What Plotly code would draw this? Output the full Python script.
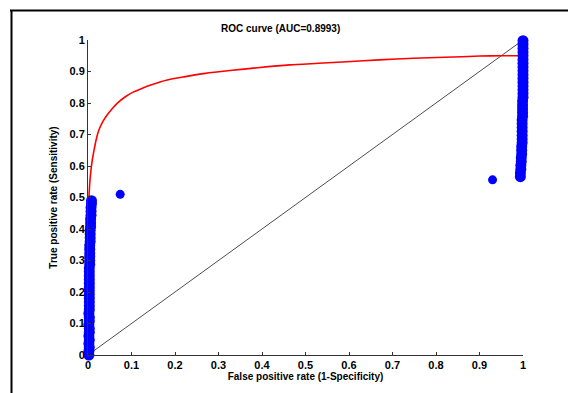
import plotly.graph_objects as go

# ROC curve (red)
roc_fpr = [0.002, 0.004, 0.006, 0.010, 0.014, 0.019, 0.025, 0.034, 0.044, 0.055, 0.067,
           0.085, 0.106, 0.125, 0.144, 0.182, 0.221, 0.270, 0.326, 0.390, 0.464, 0.530,
           0.595, 0.670, 0.748, 0.820, 0.901, 0.950, 0.989]
roc_tpr = [0.500, 0.545, 0.577, 0.620, 0.651, 0.685, 0.714, 0.741, 0.762, 0.781, 0.799,
           0.819, 0.836, 0.847, 0.857, 0.873, 0.883, 0.894, 0.903, 0.912, 0.921, 0.926,
           0.931, 0.937, 0.942, 0.945, 0.949, 0.950, 0.950]

# Blue points (operating points)
left_x = [0.002, 0.002, 0.003, 0.002, 0.003, 0.002, 0.003, 0.003, 0.002, 0.003,
          0.003, 0.002, 0.003, 0.003, 0.003, 0.003, 0.003, 0.003, 0.003, 0.003,
          0.003, 0.003, 0.003, 0.003, 0.004, 0.004, 0.004, 0.004, 0.004, 0.004,
          0.005, 0.005, 0.005, 0.005, 0.006, 0.006, 0.006, 0.007, 0.007, 0.007,
          0.008, 0.008]
left_y = [0.000, 0.012, 0.024, 0.036, 0.048, 0.060, 0.072, 0.084, 0.096, 0.108,
          0.120, 0.132, 0.144, 0.156, 0.168, 0.180, 0.192, 0.204, 0.216, 0.228,
          0.240, 0.252, 0.264, 0.276, 0.288, 0.300, 0.312, 0.324, 0.336, 0.348,
          0.360, 0.372, 0.384, 0.396, 0.408, 0.420, 0.432, 0.444, 0.456, 0.468,
          0.480, 0.490]
mid_x = [0.074, 0.930]
mid_y = [0.510, 0.556]
right_x = [0.994, 0.994, 0.995, 0.995, 0.996, 0.996, 0.997, 0.997, 0.997, 0.998,
           0.998, 0.998, 0.998, 0.998, 0.998, 0.998, 0.999, 0.999, 0.999, 0.999,
           0.999, 1.000, 1.000, 1.000, 1.000, 1.000, 1.000, 1.000, 1.000, 1.000,
           1.000, 1.000, 1.000, 1.000, 1.000, 1.000, 1.000]
right_y = [0.566, 0.578, 0.590, 0.602, 0.614, 0.626, 0.638, 0.650, 0.662, 0.674,
           0.686, 0.698, 0.710, 0.722, 0.734, 0.746, 0.758, 0.770, 0.782, 0.794,
           0.806, 0.818, 0.830, 0.842, 0.854, 0.866, 0.878, 0.890, 0.902, 0.914,
           0.926, 0.938, 0.950, 0.962, 0.974, 0.986, 0.998]

diag = [0, 1]

ticks = [0, 0.1, 0.2, 0.3, 0.4, 0.5, 0.6, 0.7, 0.8, 0.9, 1]
tick_text = ["0", "0.1", "0.2", "0.3", "0.4", "0.5", "0.6", "0.7", "0.8", "0.9", "1"]

FONT = "Liberation Sans, Arial, sans-serif"
BLUE = "#0000ff"

fig = go.Figure()
fig.add_trace(go.Scatter(x=diag, y=diag, mode="lines",
                         line=dict(color="black", width=0.7), cliponaxis=False))
fig.add_trace(go.Scatter(x=roc_fpr, y=roc_tpr, mode="lines",
                         line=dict(color="#ff0000", width=1.6, shape="spline", smoothing=0.6),
                         cliponaxis=False))
for xs, ys, sz in [(left_x, left_y, 11), (mid_x, mid_y, 9), (right_x, right_y, 11)]:
    fig.add_trace(go.Scatter(x=xs, y=ys, mode="markers",
                             marker=dict(color=BLUE, size=sz, line=dict(width=0)),
                             cliponaxis=False))

axis_common = dict(
    range=[0, 1], tickvals=ticks, ticktext=tick_text, automargin=False,
    ticks="inside", ticklen=3, tickwidth=1, tickcolor="#333333",
    showline=True, linecolor="#333333", linewidth=1, mirror=False,
    showgrid=False, zeroline=False,
    tickfont=dict(family=FONT, size=11, color="black", weight="bold"),
)

fig.update_layout(
    width=568, height=393,
    margin=dict(l=88, r=45, t=40, b=38, autoexpand=False),
    paper_bgcolor="white", plot_bgcolor="white",
    showlegend=False,
    xaxis=dict(**axis_common,
               title=dict(text="False positive rate (1-Specificity)", standoff=2,
                          font=dict(family=FONT, size=10, color="black", weight="bold"))),
    yaxis=dict(**axis_common,
               title=dict(text="True positive rate (Sensitivity)", standoff=10,
                          font=dict(family=FONT, size=10, color="black", weight="bold"))),
    annotations=[dict(text="ROC curve (AUC=0.8993)", xref="paper", yref="paper",
                      x=(280 - 88) / 435, y=(355 - 29) / 315, xanchor="center", yanchor="middle",
                      showarrow=False,
                      font=dict(family=FONT, size=10, color="black", weight="bold"))],
    shapes=[
        dict(type="line", xref="paper", yref="paper",
             x0=(10 - 88) / 435, x1=(580 - 88) / 435, y0=(355 - 10.5) / 315, y1=(355 - 10.5) / 315,
             line=dict(color="black", width=2)),
        dict(type="line", xref="paper", yref="paper",
             x0=(11.5 - 88) / 435, x1=(11.5 - 88) / 435, y0=(355 - 10) / 315, y1=(355 - 400) / 315,
             line=dict(color="black", width=2)),
    ],
)

fig.write_html("out.html", config={"displayModeBar": False},
               post_script="document.body.style.margin='0';document.body.style.overflow='hidden';")
